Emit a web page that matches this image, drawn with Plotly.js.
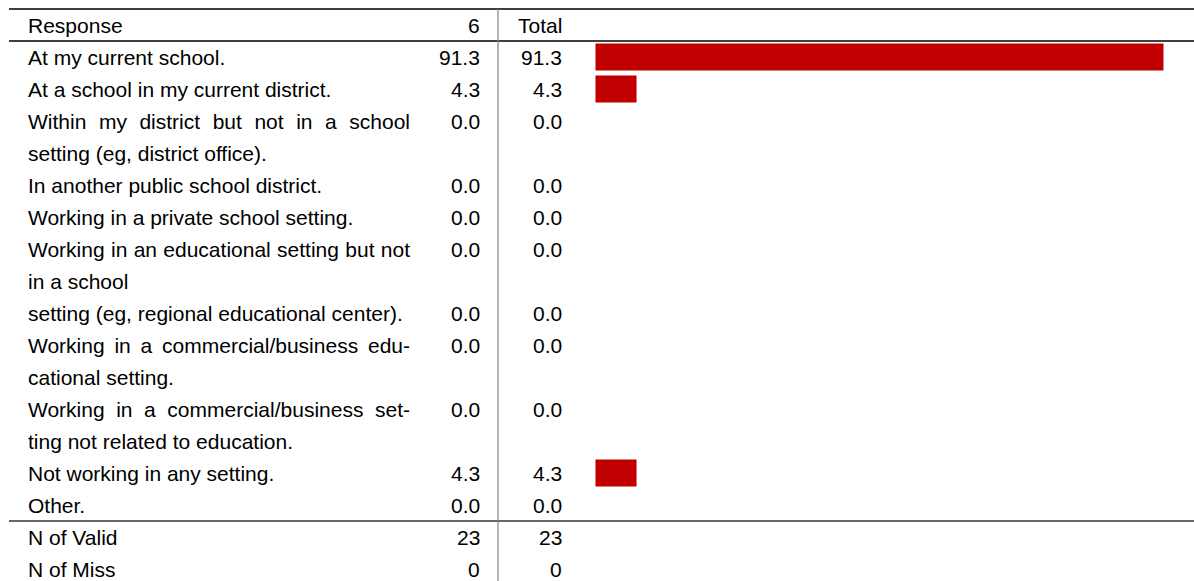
<!DOCTYPE html>
<html><head><meta charset="utf-8">
<script src="https://cdn.plot.ly/plotly-3.0.1.min.js"></script>
<style>html,body{margin:0;padding:0;background:#fff}#chart{width:1194px;height:581px}</style>
</head><body><div id="chart"></div>
<script>
// ---- data ----
const columnHeaders = ["Response", "6", "Total"];
const categories = [
  ["At my current school."],
  ["At a school in my current district."],
  ["Within my district but not in a school", "setting (eg, district office)."],
  ["In another public school district."],
  ["Working in a private school setting."],
  ["Working in an educational setting but not", "in a school"],
  ["setting (eg, regional educational center)."],
  ["Working in a commercial/business edu-", "cational setting."],
  ["Working in a commercial/business set-", "ting not related to education."],
  ["Not working in any setting."],
  ["Other."]
];
const group6 = [91.3, 4.3, 0.0, 0.0, 0.0, 0.0, 0.0, 0.0, 0.0, 4.3, 0.0];
const total  = [91.3, 4.3, 0.0, 0.0, 0.0, 0.0, 0.0, 0.0, 0.0, 4.3, 0.0];
const summaryLabels = ["N of Valid", "N of Miss"];
const summary6 = [23, 0];
const summaryTotal = [23, 0];

// ---- layout constants (pixels) ----
const W = 1194, H = 581;
const PITCH = 32, FIRST = 25;
const LABEL_X = 27, COL6_R = 481, TOTAL_R = 563, SEP_X = 498, RULE_X0 = 9, JUSTIFY_R = 409;
const ZERO_X = 603, PX_PER_UNIT = 6.057, DOMAIN_X0 = 588, BAR_PAD = 15;
const FONT = {family: "Liberation Sans, Arial, sans-serif", size: 21, color: "#000"};
const px = v => v / W;

const annotations = [];
const justifyIdx = [];
function addText(text, xpx, k, anchor) {
  annotations.push({text: text, xref: "paper", yref: "y", x: px(xpx), y: k,
    xanchor: anchor, yanchor: "middle", align: anchor, showarrow: false,
    font: FONT, borderpad: 0});
  return annotations.length - 1;
}

// header
addText(columnHeaders[0], LABEL_X, 0, "left");
addText(columnHeaders[1], COL6_R, 0, "right");
addText(columnHeaders[2], TOTAL_R, 0, "right");

let k = 1;
const barY = [];
categories.forEach((lines, i) => {
  barY.push(k);
  lines.forEach((ln, j) => {
    const idx = addText(ln, LABEL_X, k + j, "left");
    if (j < lines.length - 1) justifyIdx.push(idx);
  });
  addText(group6[i].toFixed(1), COL6_R, k, "right");
  addText(total[i].toFixed(1), TOTAL_R, k, "right");
  k += lines.length;
});
const bodyEnd = k;
summaryLabels.forEach((lab, i) => {
  addText(lab, LABEL_X, k, "left");
  addText(String(summary6[i]), COL6_R, k, "right");
  addText(String(summaryTotal[i]), TOTAL_R, k, "right");
  k += 1;
});

const yTop = -FIRST / PITCH, yBot = (H - FIRST) / PITCH;

const shapes = [
  {type: "line", xref: "paper", yref: "y", x0: px(RULE_X0), x1: 1, y0: -0.5, y1: -0.5, line: {color: "#000", width: 1.5}},
  {type: "line", xref: "paper", yref: "y", x0: px(RULE_X0), x1: 1, y0: 0.5, y1: 0.5, line: {color: "#000", width: 1.5}},
  {type: "line", xref: "paper", yref: "y", x0: px(RULE_X0), x1: 1, y0: bodyEnd - 0.5, y1: bodyEnd - 0.5, line: {color: "#333", width: 1.5}},
  {type: "line", xref: "paper", yref: "y", x0: px(SEP_X), x1: px(SEP_X), y0: -0.5, y1: yBot, line: {color: "#808080", width: 1.2}}
];

const trace = {
  type: "bar", orientation: "h", x: total, y: barY, base: 0,
  width: 12 / PITCH,
  marker: {color: "#C00000", line: {color: "#C00000", width: total.map(v => v > 0 ? BAR_PAD : 0)}},
  hoverinfo: "skip", showlegend: false
};

const layout = {
  width: W, height: H, margin: {l: 0, r: 0, t: 0, b: 0, pad: 0},
  paper_bgcolor: "#fff", plot_bgcolor: "rgba(0,0,0,0)",
  xaxis: {domain: [px(DOMAIN_X0), 1], range: [-(ZERO_X - DOMAIN_X0) / PX_PER_UNIT, (W - ZERO_X) / PX_PER_UNIT], visible: false, fixedrange: true},
  yaxis: {range: [yBot, yTop], visible: false, fixedrange: true},
  annotations: annotations, shapes: shapes, showlegend: false, font: FONT
};

Plotly.newPlot("chart", [trace], layout, {displayModeBar: false, staticPlot: true}).then(() => {
  const target = JUSTIFY_R - LABEL_X;
  document.querySelectorAll("g.annotation").forEach(g => {
    const idx = +g.getAttribute("data-index");
    if (justifyIdx.indexOf(idx) < 0) return;
    const t = g.querySelector("text.annotation-text");
    if (!t) return;
    const w = t.getComputedTextLength();
    const spaces = (t.textContent.match(/ /g) || []).length;
    if (spaces > 0 && w < target) t.style.wordSpacing = ((target - w) / spaces) + "px";
  });
});
</script>
</body></html>
